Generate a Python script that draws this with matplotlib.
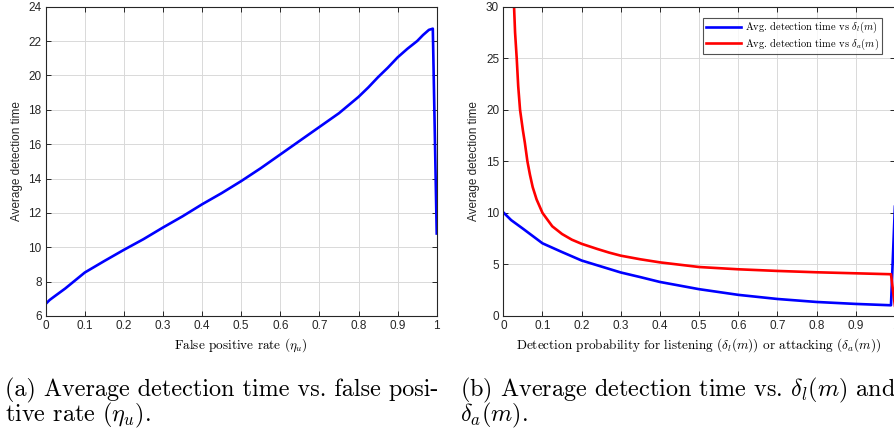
import matplotlib
matplotlib.use("Agg")
import matplotlib.pyplot as plt

plt.rcParams['mathtext.fontset'] = 'cm'

# (a) false positive rate vs average detection time
fpr = [0, 0.01, 0.02, 0.05, 0.1, 0.15, 0.2, 0.25, 0.3, 0.35, 0.4, 0.45, 0.5,
       0.55, 0.6, 0.65, 0.7, 0.75, 0.8, 0.825, 0.85, 0.875, 0.9, 0.925, 0.95,
       0.965, 0.98, 0.99, 1.0]
t_fpr = [6.7, 6.93, 7.1, 7.6, 8.53, 9.2, 9.85, 10.47, 11.15, 11.8, 12.5, 13.15, 13.85,
         14.6, 15.4, 16.2, 17.0, 17.8, 18.75, 19.3, 19.9, 20.45, 21.05, 21.55, 22.0,
         22.35, 22.65, 22.72, 10.8]

# (b) detection probability for listening / attacking
d_l = [0, 0.02, 0.05, 0.1, 0.15, 0.2, 0.25, 0.3, 0.35, 0.4, 0.45, 0.5,
       0.6, 0.7, 0.8, 0.9, 0.99, 1.0]
t_l = [10.05, 9.3, 8.47, 7.05, 6.2, 5.38, 4.8, 4.22, 3.77, 3.3, 2.95, 2.6,
       2.05, 1.65, 1.36, 1.17, 1.04, 10.6]
d_a = [0.026, 0.0274, 0.03, 0.0342, 0.038, 0.0427, 0.05, 0.055, 0.0615, 0.068, 0.075,
       0.085, 0.1, 0.125, 0.15, 0.175, 0.2, 0.24, 0.27, 0.3, 0.35, 0.4, 0.5, 0.6,
       0.7, 0.8, 0.9, 0.99, 1.0]
t_a = [32, 30, 27.5, 25, 22.3, 20, 18.0, 16.8, 15, 13.7, 12.5,
       11.3, 10.0, 8.7, 7.95, 7.4, 7.0, 6.5, 6.15, 5.85, 5.5, 5.2, 4.75, 4.53,
       4.37, 4.24, 4.14, 4.05, 1.0]

dark = '#262626'
ticks_x = [i / 10 for i in range(11)]
ticklabels_x = ['0', '0.1', '0.2', '0.3', '0.4', '0.5', '0.6', '0.7', '0.8', '0.9', '1']


def style_axes(ax):
    ax.grid(True, color='#d9d9d9', linewidth=0.7)
    ax.set_axisbelow(True)
    ax.tick_params(direction='in', top=True, right=True, length=3.5, width=0.7,
                   colors=dark, labelsize=8.5, pad=3)
    for lab in ax.get_xticklabels() + ax.get_yticklabels():
        lab.set_family('Liberation Sans')
    for s in ax.spines.values():
        s.set_color(dark)
        s.set_linewidth(0.8)
    ax.set_ylabel('Average detection time', family='Liberation Sans', fontsize=8.5,
                  color=dark, labelpad=4)


fig = plt.figure(figsize=(8.94, 4.28), dpi=100)

ax1 = fig.add_axes([0.0511, 0.2617, 0.4374, 0.7227])
ax1.plot(fpr, t_fpr, color='#0000ff', lw=1.9)
ax1.set_xlim(0, 1)
ax1.set_ylim(6, 24)
ax1.set_xticks(ticks_x)
ax1.set_xticklabels(ticklabels_x)
ax1.set_yticks(range(6, 25, 2))
style_axes(ax1)
ax1.set_xlabel(r'False positive rate ($\eta_u$)', family='cmr10', fontsize=9.5, labelpad=3)

ax2 = fig.add_axes([0.563, 0.2617, 0.438, 0.7227])
ax2.plot(d_l, t_l, color='#0000ff', lw=1.9,
         label=r'Avg. detection time vs $\delta_l(m)$')
ax2.plot(d_a, t_a, color='#ff0000', lw=1.9,
         label=r'Avg. detection time vs $\delta_a(m)$')
ax2.set_xlim(0, 1)
ax2.set_ylim(0, 30)
ax2.set_xticks(ticks_x)
ax2.set_xticklabels(ticklabels_x)
ax2.set_yticks(range(0, 31, 5))
style_axes(ax2)
ax2.set_xlabel(r'Detection probability for listening ($\delta_l(m)$) or attacking ($\delta_a(m)$)',
               family='cmr10', fontsize=9.5, labelpad=3)
leg = ax2.legend(loc='upper right', bbox_to_anchor=(0.975, 0.975), prop={'family': 'cmr10', 'size': 7.5},
                 fancybox=False, edgecolor=dark, handlelength=3.4, borderpad=0.25,
                 labelspacing=0.1, handletextpad=0.4, borderaxespad=0.3)
leg.get_frame().set_linewidth(0.8)

cap = dict(family='cmr10', fontsize=17.4, va='baseline', ha='left', color='black')
fig.text(5 / 894, 1 - 396 / 428, '(a) Average detection time vs. false posi-', **cap)
fig.text(5 / 894, 1 - 421 / 428, r'tive rate ($\eta_u$).', **cap)
fig.text(460 / 894, 1 - 396 / 428, r'(b) Average detection time vs. $\delta_l(m)$ and', **cap)
fig.text(460 / 894, 1 - 421 / 428, r'$\delta_a(m)$.', **cap)

fig.savefig('out.png', dpi=100)
